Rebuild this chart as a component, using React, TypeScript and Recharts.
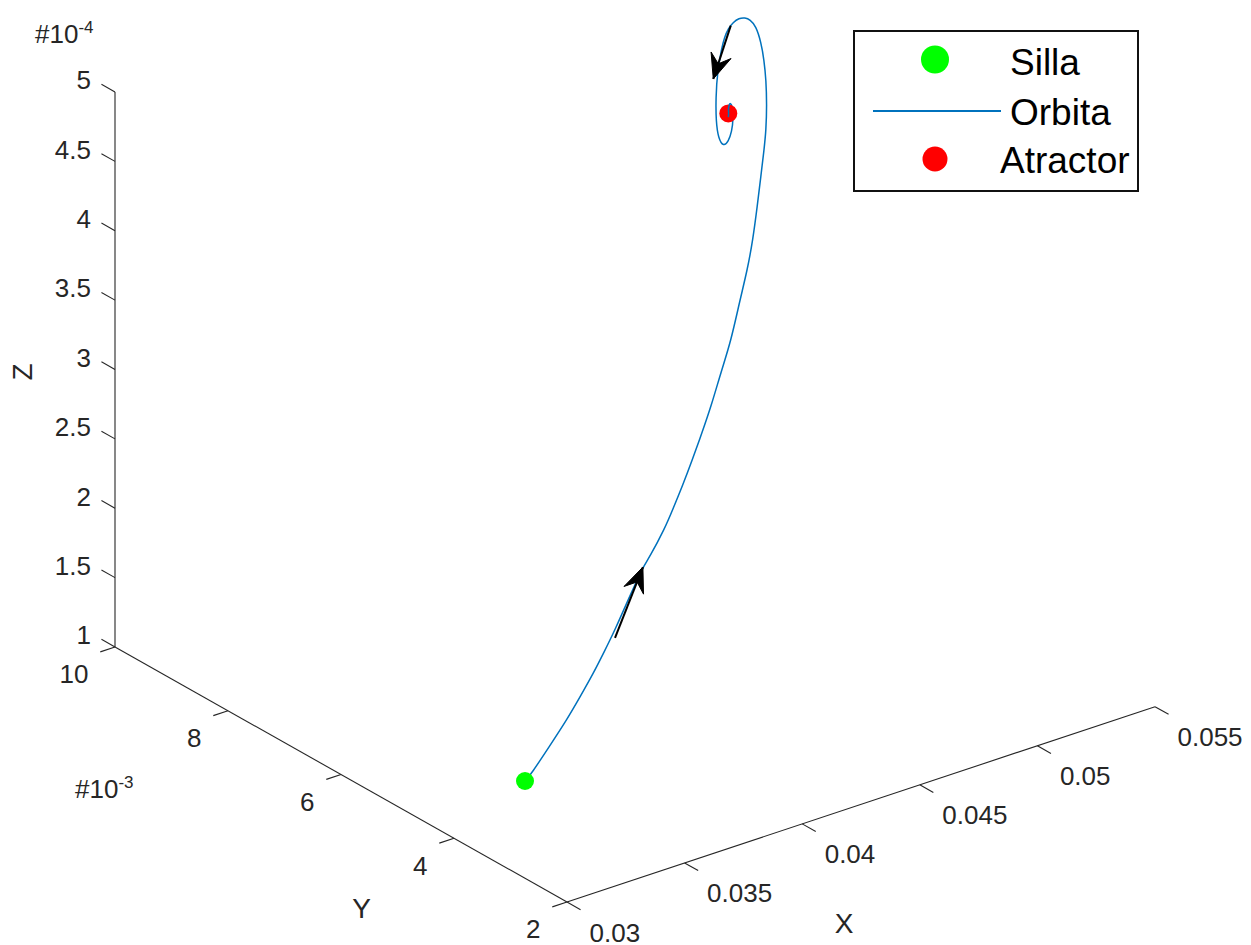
import React from 'react';
import { ScatterChart, Scatter, XAxis, YAxis, ReferenceLine, Legend } from 'recharts';

const W = 1251;
const H = 945;

// ---------------- data ----------------
const xLimits = [0.03, 0.055];
const yLimits = [0.002, 0.01];
const zLimits = [1e-4, 5e-4];

const xTickValues = [0.03, 0.035, 0.04, 0.045, 0.05, 0.055];
const xTickLabels = ['0.03', '0.035', '0.04', '0.045', '0.05', '0.055'];
const yTickValues = [0.002, 0.004, 0.006, 0.008, 0.01];
const yTickLabels = ['2', '4', '6', '8', '10'];
const zTickValues = [1e-4, 1.5e-4, 2e-4, 2.5e-4, 3e-4, 3.5e-4, 4e-4, 4.5e-4, 5e-4];
const zTickLabels = ['1', '1.5', '2', '2.5', '3', '3.5', '4', '4.5', '5'];

const sillaPoint = [0.034616, 0.004665, 1.0e-4];
const atractorPoint = [0.04872, 0.006938, 4.495e-4];

const orbitX = [
  0.034616, 0.03508, 0.03628, 0.03751, 0.03843, 0.03936, 0.0401, 0.04086, 0.04183, 0.0428,
  0.04322, 0.04433, 0.0449, 0.04556, 0.04622, 0.04688, 0.04752, 0.04826, 0.04889, 0.04953,
  0.05004, 0.05042, 0.05073, 0.05099, 0.0512, 0.05134, 0.05139, 0.05134, 0.0512, 0.05099,
  0.05064, 0.05023, 0.04988, 0.04946, 0.04905, 0.04872, 0.04846, 0.04826, 0.04796, 0.04785,
  0.04787, 0.04803, 0.04838, 0.04872, 0.04896, 0.04907, 0.049, 0.04884,
];
const orbitY = [
  0.004665, 0.00474, 0.004933, 0.005131, 0.00528, 0.005429, 0.005548, 0.005671, 0.005828, 0.005985,
  0.006052, 0.006231, 0.006323, 0.006428, 0.006536, 0.006641, 0.006745, 0.006865, 0.006965, 0.007069,
  0.007151, 0.007211, 0.007263, 0.007304, 0.007338, 0.00736, 0.007368, 0.00736, 0.007338, 0.007304,
  0.007248, 0.007181, 0.007125, 0.007058, 0.006991, 0.006938, 0.006896, 0.006865, 0.006815, 0.006797,
  0.006801, 0.006827, 0.006882, 0.006938, 0.006976, 0.006994, 0.006983, 0.006957,
];
const orbitZ = [
  1.0e-4, 1.012e-4, 1.09e-4, 1.17e-4, 1.249e-4, 1.334e-4, 1.418e-4, 1.506e-4, 1.646e-4, 1.778e-4,
  1.802e-4, 1.915e-4, 2.005e-4, 2.112e-4, 2.23e-4, 2.362e-4, 2.493e-4, 2.688e-4, 2.834e-4, 3.074e-4,
  3.243e-4, 3.425e-4, 3.635e-4, 3.839e-4, 4.0e-4, 4.131e-4, 4.307e-4, 4.492e-4, 4.649e-4, 4.798e-4,
  4.946e-4, 5.031e-4, 5.077e-4, 5.113e-4, 5.12e-4, 5.108e-4, 5.07e-4, 5.007e-4, 4.867e-4, 4.685e-4,
  4.515e-4, 4.38e-4, 4.287e-4, 4.291e-4, 4.341e-4, 4.427e-4, 4.53e-4, 4.557e-4,
];
// last few points of the orbit, converging into the attractor
const innerX = [0.04884, 0.04876, 0.04873, 0.04874, 0.04872];
const innerY = [0.006957, 0.006944, 0.006939, 0.006941, 0.006938];
const innerZ = [4.557e-4, 4.545e-4, 4.519e-4, 4.489e-4, 4.469e-4];

// direction arrows (quiver3): base point and vector
const quiverX = [0.04086, 0.04889];
const quiverY = [0.005671, 0.006965];
const quiverZ = [1.448e-4, 5.112e-4];
const quiverU = [0.00194, -0.00121];
const quiverV = [0.000314, -0.000194];
const quiverW = [0.33e-4, -0.272e-4];

const legendNames = ['Silla', 'Orbita', 'Atractor'];

// ---------------- view (3-D camera projection) ----------------
const VIEW = { ox: 567, oy: 902, ax: [588, -195.3], ay: [-452, -255], az: [0, -555] };
const norm = (v: number, lim: number[]) => (v - lim[0]) / (lim[1] - lim[0]);
function project(x: number, y: number, z: number) {
  const a = norm(x, xLimits);
  const b = norm(y, yLimits);
  const c = norm(z, zLimits);
  return {
    px: VIEW.ox + a * VIEW.ax[0] + b * VIEW.ay[0] + c * VIEW.az[0],
    py: VIEW.oy + a * VIEW.ax[1] + b * VIEW.ay[1] + c * VIEW.az[1],
  };
}
const seg = (p: number[], q: number[]) => {
  const A = project(p[0], p[1], p[2]);
  const B = project(q[0], q[1], q[2]);
  return [{ x: A.px, y: A.py }, { x: B.px, y: B.py }];
};

// ---------------- styles ----------------
const AXIS_COLOR = '#262626';
const FONT = '"Liberation Sans", Arimo, Helvetica, Arial, sans-serif';
const TICK_FONT = 26;
const TITLE_FONT = 28;
const TICK_FRAC_XY = 0.03;
const TICK_FRAC_Y = 0.025;
const ORBIT_COLOR = '#0072BD';

const [x0, x1] = xLimits;
const [y0, y1] = yLimits;
const [z0, z1] = zLimits;
const xr = x1 - x0;
const yr = y1 - y0;

const axisSegments = [
  seg([x0, y0, z0], [x1, y0, z0]),
  seg([x0, y0, z0], [x0, y1, z0]),
  seg([x0, y1, z0], [x0, y1, z1]),
];
const tickSegments = [
  ...xTickValues.map((v) => seg([v, y0, z0], [v, y0 - TICK_FRAC_XY * yr, z0])),
  ...yTickValues.map((v) => seg([x0, v, z0], [x0 - TICK_FRAC_Y * xr, v, z0])),
  ...zTickValues.map((v) => seg([x0, y1, v], [x0, y1 + TICK_FRAC_XY * yr, v])),
];

type Lbl = { px: number; py: number; text: string; dx: number; dy: number; anchor: string; size: number; rot?: boolean; sup?: string };
const labels: Lbl[] = [
  ...xTickValues.map((v, i) => ({ ...project(v, y0, z0), text: xTickLabels[i], dx: 22.5, dy: 39.5, anchor: 'start', size: TICK_FONT })),
  ...yTickValues.map((v, i) => ({ ...project(x0, v, z0), text: yTickLabels[i], dx: -26.5, dy: 36.3, anchor: 'end', size: TICK_FONT })),
  ...zTickValues.map((v, i) => ({ ...project(x0, y1, v), text: zTickLabels[i], dx: -24, dy: -2.7, anchor: 'end', size: TICK_FONT })),
  { ...project((x0 + x1) / 2, y0, z0), text: 'X', dx: -17, dy: 129, anchor: 'middle', size: TITLE_FONT },
  { ...project(x0, (y0 + y1) / 2, z0), text: 'Y', dx: 20.7, dy: 143.8, anchor: 'middle', size: TITLE_FONT },
  { ...project(x0, y1, (z0 + z1) / 2), text: 'Z', dx: -83, dy: 2.5, anchor: 'middle', size: TITLE_FONT, rot: true },
  { ...project(x0, y1, z1), text: '#10', sup: '-4', dx: -80, dy: -49.5, anchor: 'start', size: TICK_FONT },
  { ...project(x0, y1, z0), text: '#10', sup: '-3', dx: -40, dy: 151, anchor: 'start', size: TICK_FONT },
];

const sillaData = [project(sillaPoint[0], sillaPoint[1], sillaPoint[2])];
const atractorData = [project(atractorPoint[0], atractorPoint[1], atractorPoint[2])];
const orbitData = orbitX.map((x, i) => project(x, orbitY[i], orbitZ[i]));
const innerData = innerX.map((x, i) => project(x, innerY[i], innerZ[i]));
const arrowData = quiverX.map((x, i) => {
  const tail = project(x, quiverY[i], quiverZ[i]);
  const tip = project(x + quiverU[i], quiverY[i] + quiverV[i], quiverZ[i] + quiverW[i]);
  const dx = tip.px - tail.px;
  const dy = tip.py - tail.py;
  const len = Math.hypot(dx, dy);
  return [
    { ...tail, head: false },
    { ...tip, head: true, ux: dx / len, uy: dy / len },
  ];
});

// ---------------- shapes ----------------
const EmptyShape = () => <g />;
const dotShape = (r: number, color: string) => (props: any) => (
  <circle cx={props.cx} cy={props.cy} r={r} fill={color} stroke="none" />
);
const ArrowHead = (props: any) => {
  const p = props.payload || {};
  if (!p.head) return <g />;
  const L = 25;
  const w = 10.5;
  const { cx, cy } = props;
  const ux = p.ux;
  const uy = p.uy;
  const nx = -uy;
  const ny = ux;
  const bx = cx - L * ux;
  const by = cy - L * uy;
  const pts = [
    [cx, cy],
    [bx + w * nx, by + w * ny],
    [cx - 0.64 * L * ux, cy - 0.64 * L * uy],
    [bx - w * nx, by - w * ny],
  ]
    .map((q) => q.join(','))
    .join(' ');
  return <polygon points={pts} fill="#000" stroke="#000" strokeWidth={1} strokeLinejoin="miter" />;
};
const TextShape = (props: any) => {
  const p: Lbl = props.payload;
  const x = props.cx + p.dx;
  const y = props.cy + p.dy;
  return (
    <text
      x={x}
      y={y}
      textAnchor={p.anchor as any}
      fontSize={p.size}
      fontFamily={FONT}
      fill={AXIS_COLOR}
      transform={p.rot ? `rotate(-90, ${x}, ${y})` : undefined}
    >
      {p.text}
      {p.sup ? (
        <tspan dy={-10} fontSize={17}>
          {p.sup}
        </tspan>
      ) : null}
    </text>
  );
};

const LegendBox = () => (
  <svg width={287} height={163} style={{ display: 'block', overflow: 'visible' }}>
    <rect x={1} y={1} width={284} height={160} fill="#ffffff" stroke="#111111" strokeWidth={2} />
    <circle cx={82} cy={29.5} r={14} fill="#00ff00" />
    <text x={157} y={45} fontSize={37} fontFamily={FONT} fill="#000">
      {legendNames[0]}
    </text>
    <line x1={20} x2={148} y1={81} y2={81} stroke={ORBIT_COLOR} strokeWidth={2} />
    <text x={157} y={95} fontSize={37} fontFamily={FONT} fill="#000">
      {legendNames[1]}
    </text>
    <circle cx={82} cy={129} r={12.5} fill="#ff0000" />
    <text x={147} y={143} fontSize={37} fontFamily={FONT} fill="#000">
      {legendNames[2]}
    </text>
  </svg>
);

export default function App() {
  return (
    <div style={{ position: 'absolute', left: 0, top: 0, width: W, height: H, background: '#ffffff' }}>
      <ScatterChart width={W} height={H} margin={{ top: 0, right: 0, bottom: 0, left: 0 }}>
        <XAxis type="number" dataKey="px" domain={[0, W]} hide allowDataOverflow />
        <YAxis type="number" dataKey="py" domain={[0, H]} reversed hide allowDataOverflow />
        {axisSegments.map((s, i) => (
          <ReferenceLine key={'ax' + i} segment={s} stroke={AXIS_COLOR} strokeWidth={1.1} ifOverflow="visible" />
        ))}
        {tickSegments.map((s, i) => (
          <ReferenceLine key={'tk' + i} segment={s} stroke={AXIS_COLOR} strokeWidth={1.1} ifOverflow="visible" />
        ))}
        <Scatter
          name="Orbita"
          data={orbitData}
          fill={ORBIT_COLOR}
          line={{ stroke: ORBIT_COLOR, strokeWidth: 1.5 }}
          lineType="joint"
          lineJointType="basis"
          shape={EmptyShape}
          isAnimationActive={false}
        />
        <Scatter name="Silla" data={sillaData} fill="#00ff00" shape={dotShape(9, '#00ff00')} isAnimationActive={false} />
        <Scatter name="Atractor" data={atractorData} fill="#ff0000" shape={dotShape(9, '#ff0000')} isAnimationActive={false} />
        <Scatter
          name="inner"
          data={innerData}
          fill={ORBIT_COLOR}
          line={{ stroke: ORBIT_COLOR, strokeWidth: 1.5 }}
          lineType="joint"
          lineJointType="natural"
          shape={EmptyShape}
          legendType="none"
          isAnimationActive={false}
        />
        {arrowData.map((d, i) => (
          <Scatter
            key={'arrow' + i}
            name={'arrow' + i}
            data={d}
            fill="#000"
            line={{ stroke: '#000', strokeWidth: 2 }}
            lineType="joint"
            shape={ArrowHead}
            legendType="none"
            isAnimationActive={false}
          />
        ))}
        <Scatter name="labels" data={labels} fill={AXIS_COLOR} shape={TextShape} legendType="none" isAnimationActive={false} />
        <Legend
          layout="horizontal"
          verticalAlign="middle"
          align="center"
          wrapperStyle={{ left: 853, top: 30, width: 287, height: 163, right: 'auto', bottom: 'auto' }}
          content={() => <LegendBox />}
        />
      </ScatterChart>
    </div>
  );
}
